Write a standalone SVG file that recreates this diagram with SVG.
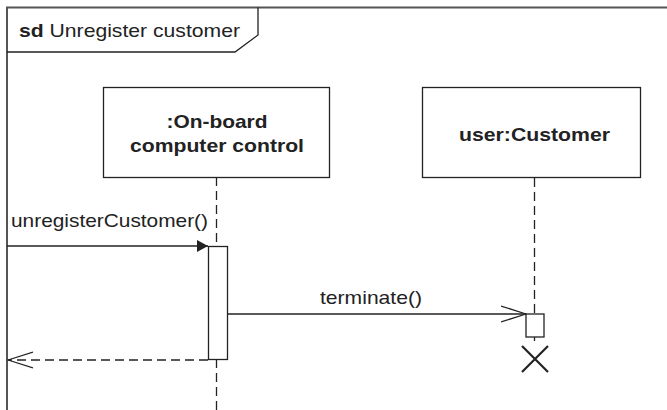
<svg xmlns="http://www.w3.org/2000/svg" width="667" height="410" viewBox="0 0 667 410">
<style>
.ln{stroke:#222;stroke-width:1.3;fill:none}
.dash{stroke:#222;stroke-width:1.3;fill:none;stroke-dasharray:9,5}
.box{fill:#fff;stroke:#222;stroke-width:1.3}
.t{font-family:"Liberation Sans",Arial,sans-serif;fill:#222;font-size:19px}
.b{font-weight:bold}
</style>
<defs>
<marker id="filled" markerWidth="12" markerHeight="12" refX="11" refY="6" orient="auto" markerUnits="userSpaceOnUse">
<path d="M0,0 L11,6 L0,12 Z" fill="#222"/>
</marker>
<marker id="open" markerWidth="26" markerHeight="18" refX="25" refY="9" orient="auto" markerUnits="userSpaceOnUse">
<path d="M0,1 L25,9 L0,17" fill="none" stroke="#222" stroke-width="1.3"/>
</marker>
</defs>
<g id="frame">
<path d="M7,410 V7.5 H667" fill="none" stroke="#555" stroke-width="2"/>
<path class="ln" d="M7,52 H235 L258,35 V7.5"/>
<text class="t" x="19" y="37" textLength="221" lengthAdjust="spacingAndGlyphs"><tspan class="b">sd</tspan> Unregister customer</text>
</g>
<g id="connectors">
<line class="dash" x1="216.5" y1="177" x2="216.5" y2="410"/>
<line class="dash" x1="534.5" y1="178" x2="534.5" y2="346"/>
<line class="ln" x1="7" y1="246" x2="208" y2="246" marker-end="url(#filled)"/>
<text class="t" x="11" y="227" textLength="197" lengthAdjust="spacingAndGlyphs">unregisterCustomer()</text>
<line class="ln" x1="227" y1="314" x2="526" y2="314" marker-end="url(#open)"/>
<text class="t" x="320" y="304" textLength="102" lengthAdjust="spacingAndGlyphs">terminate()</text>
<line class="dash" x1="208" y1="360" x2="8" y2="360" marker-end="url(#open)"/>
</g>
<g id="node-computer">
<rect class="box" x="103.5" y="87.5" width="226" height="90"/>
<text class="t b" x="217" y="128" text-anchor="middle" textLength="101" lengthAdjust="spacingAndGlyphs">:On-board</text>
<text class="t b" x="217" y="152" text-anchor="middle" textLength="174" lengthAdjust="spacingAndGlyphs">computer control</text>
<rect class="box" x="208.5" y="246.5" width="19" height="113"/>
</g>
<g id="node-customer">
<rect class="box" x="422.5" y="87.5" width="218" height="90"/>
<text class="t b" x="534.5" y="141" text-anchor="middle" textLength="151" lengthAdjust="spacingAndGlyphs">user:Customer</text>
<rect class="box" x="526" y="314" width="18" height="23"/>
<path d="M522,346 L548,372 M548,346 L522,372" stroke="#222" stroke-width="2.2" fill="none"/>
</g>
</svg>
